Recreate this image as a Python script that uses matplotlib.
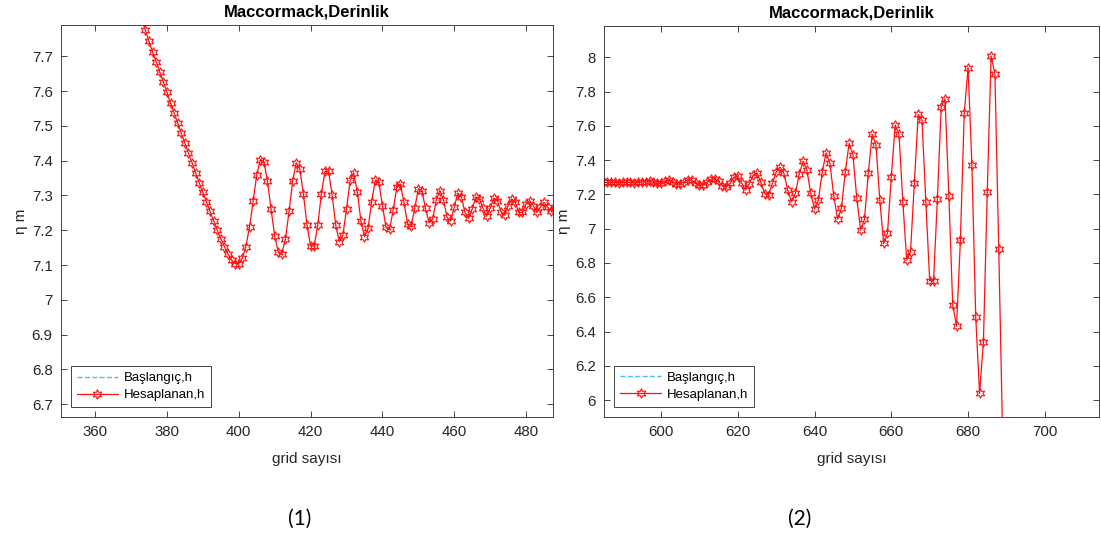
import numpy as np
import matplotlib
matplotlib.use('Agg')
import matplotlib.pyplot as plt
from matplotlib.ticker import FuncFormatter

plt.rcParams['font.family'] = ['Liberation Sans', 'DejaVu Sans']

# ---------------- data ----------------
grid_1 = np.arange(373, 489)
h_1 = [7.806, 7.775, 7.743, 7.712, 7.684, 7.655, 7.626, 7.597, 7.565, 7.537,
       7.508, 7.479, 7.450, 7.421, 7.394, 7.364, 7.336, 7.309, 7.282, 7.254,
       7.227, 7.200, 7.176, 7.153, 7.131, 7.114, 7.104, 7.104, 7.120, 7.153,
       7.210, 7.283, 7.359, 7.403, 7.397, 7.341, 7.260, 7.183, 7.138, 7.133,
       7.175, 7.254, 7.342, 7.394, 7.376, 7.304, 7.215, 7.155, 7.155, 7.215,
       7.304, 7.369, 7.369, 7.301, 7.215, 7.167, 7.186, 7.261, 7.343, 7.365,
       7.311, 7.227, 7.181, 7.205, 7.282, 7.343, 7.338, 7.271, 7.208, 7.203,
       7.258, 7.323, 7.333, 7.280, 7.218, 7.213, 7.263, 7.319, 7.314, 7.263,
       7.221, 7.232, 7.287, 7.314, 7.288, 7.237, 7.227, 7.266, 7.307, 7.295,
       7.251, 7.234, 7.261, 7.295, 7.290, 7.263, 7.240, 7.263, 7.292, 7.285,
       7.253, 7.244, 7.271, 7.290, 7.280, 7.251, 7.251, 7.276, 7.285, 7.271,
       7.251, 7.266, 7.280, 7.266, 7.256, 7.262]

grid_2 = np.arange(584, 690)
h_2 = [7.270, 7.270, 7.270, 7.271, 7.270, 7.269, 7.270, 7.271, 7.270, 7.269,
       7.270, 7.272, 7.274, 7.276, 7.272, 7.264, 7.268, 7.278, 7.284, 7.274,
       7.261, 7.263, 7.274, 7.284, 7.282, 7.266, 7.253, 7.258, 7.273, 7.289,
       7.292, 7.276, 7.249, 7.244, 7.266, 7.302, 7.305, 7.266, 7.226, 7.262,
       7.313, 7.325, 7.270, 7.205, 7.198, 7.265, 7.330, 7.360, 7.323, 7.226,
       7.157, 7.206, 7.319, 7.395, 7.342, 7.206, 7.115, 7.167, 7.332, 7.443,
       7.381, 7.192, 7.056, 7.119, 7.332, 7.498, 7.430, 7.177, 6.992, 7.054,
       7.323, 7.551, 7.488, 7.167, 6.914, 6.973, 7.303, 7.605, 7.551, 7.157,
       6.817, 6.865, 7.265, 7.667, 7.634, 7.154, 6.696, 6.696, 7.171, 7.712,
       7.758, 7.191, 6.554, 6.432, 6.934, 7.673, 7.940, 7.371, 6.483, 6.039,
       6.340, 7.212, 8.008, 7.903, 6.879, 5.790]

title_text = 'Maccormack,Derinlik'
xlabel_text = 'grid sayısı'
ylabel_text = 'η m'
legend_labels = ['Başlangıç,h', 'Hesaplanan,h']
panel_labels = ['(1)', '(2)']

xticks_1 = [360, 380, 400, 420, 440, 460, 480]
yticks_1 = [6.7, 6.8, 6.9, 7.0, 7.1, 7.2, 7.3, 7.4, 7.5, 7.6, 7.7]
xticks_2 = [600, 620, 640, 660, 680, 700]
yticks_2 = [6.0, 6.2, 6.4, 6.6, 6.8, 7.0, 7.2, 7.4, 7.6, 7.8, 8.0]

# ---------------- figure ----------------
W, H = 1101, 539
fig = plt.figure(figsize=(W / 100, H / 100), dpi=100)

def rect(x0, y0, x1, y1):
    return [x0 / W, 1 - y1 / H, (x1 - x0) / W, (y1 - y0) / H]

ax1 = fig.add_axes(rect(61, 25, 553, 417))
ax2 = fig.add_axes(rect(604.3, 26, 1099.3, 416.7))

dark = '#262626'
red = '#FF1010'
cyan = '#4DBEEE'
star = (6, 1, 0)
fmt = FuncFormatter(lambda v, p: f'{round(v, 3):g}')

panels = [
    (ax1, grid_1, h_1, xticks_1, yticks_1, (350.5, 487.5), (6.663, 7.79)),
    (ax2, grid_2, h_2, xticks_2, yticks_2, (585.2, 714.2), (5.903, 8.183)),
]

for ax, gx, hy, xt, yt, xl, yl in panels:
    ax.plot([], [], linestyle='--', color=cyan, linewidth=1.0, label=legend_labels[0])
    ax.plot(gx, hy, color=red, linewidth=0.9, marker=star, markersize=7,
            markerfacecolor='none', markeredgecolor=red, markeredgewidth=0.8,
            label=legend_labels[1])
    ax.set_xlim(*xl)
    ax.set_ylim(*yl)
    ax.set_xticks(xt)
    ax.set_yticks(yt)
    ax.xaxis.set_major_formatter(fmt)
    ax.yaxis.set_major_formatter(fmt)
    ax.tick_params(direction='in', length=4, width=0.6, top=True, right=True,
                   labelsize=10.8, colors=dark, pad=6)
    for s in ax.spines.values():
        s.set_color(dark)
        s.set_linewidth(0.6)
    ax.set_title(title_text, fontsize=12, fontweight='bold', color='black', pad=6)
    ax.set_xlabel(xlabel_text, fontsize=11, color=dark, labelpad=9)
    ax.set_ylabel(ylabel_text, fontsize=11, color=dark, labelpad=3)
    leg = ax.legend(loc='lower left', fontsize=9.5, frameon=True, fancybox=False,
                    framealpha=1, edgecolor=dark, handlelength=3.1,
                    borderaxespad=0.75, borderpad=0.45, labelspacing=0.35,
                    handletextpad=0.45)
    leg.get_frame().set_linewidth(0.6)

fig.text(300 / W, 1 - 519 / H, panel_labels[0], fontsize=15, family=['Lato', 'DejaVu Sans'],
         ha='center', va='center', color='black')
fig.text(800 / W, 1 - 519 / H, panel_labels[1], fontsize=15, family=['Lato', 'DejaVu Sans'],
         ha='center', va='center', color='black')

fig.savefig('out.png', dpi=100)
